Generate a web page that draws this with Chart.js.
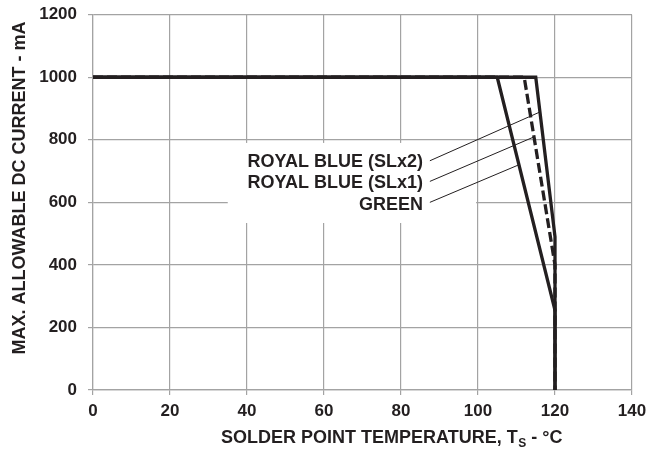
<!DOCTYPE html>
<html>
<head>
<meta charset="utf-8">
<script src="https://cdn.jsdelivr.net/npm/chart.js@4/dist/chart.umd.min.js"></script>
<style>
  html, body { margin: 0; padding: 0; background: #fff; }
  #wrap { width: 649px; height: 453px; }
</style>
</head>
<body>
<div id="wrap"><canvas id="c" width="649" height="453"></canvas></div>
<script>
// Derating curves: max allowable DC current vs solder point temperature
const tempTicks = [0, 20, 40, 60, 80, 100, 120, 140];
const currentTicks = [0, 200, 400, 600, 800, 1000, 1200];

const greenTemp = [0, 105, 120, 120];
const greenCurrent = [1000, 1000, 255, 0];

const slx1Temp = [0, 112, 120, 120];
const slx1Current = [1000, 1000, 400, 0];

const slx2Temp = [0, 115, 120, 120];
const slx2Current = [1000, 1000, 490, 0];

// Callout labels and their leader lines (data units)
const calloutLabels = ['ROYAL BLUE (SLx2)', 'ROYAL BLUE (SLx1)', 'GREEN'];
const calloutLabelTemp = 85.7;
const calloutLabelCurrent = [730, 661, 590];
const leaderStartTemp = 87.5;
const leaderStartCurrent = [733, 667, 600];
const leaderEndTemp = [116.1, 114.5, 110.6];
const leaderEndCurrent = [889, 809, 720];
// white backing behind the callout text
const calloutBoxTemp = [35, 99.5];
const calloutBoxCurrent = [534, 790];

const xTitleMain = 'SOLDER POINT TEMPERATURE, T';
const xTitleSub = 'S';
const xTitleTail = ' - \u00B0C';
const yTitle = 'MAX. ALLOWABLE DC CURRENT - mA';

const INK = '#231f20';
const GRID = '#a3a3a3';
const FONT = '"Liberation Sans", Arial, Helvetica, sans-serif';

function toPoints(xs, ys) { return xs.map((x, i) => ({ x: x, y: ys[i] })); }

const calloutPlugin = {
  id: 'callouts',
  beforeDatasetsDraw(chart) {
    const { ctx, scales: { x, y } } = chart;
    const x0 = x.getPixelForValue(calloutBoxTemp[0]);
    const x1 = x.getPixelForValue(calloutBoxTemp[1]);
    const y0 = y.getPixelForValue(calloutBoxCurrent[1]);
    const y1 = y.getPixelForValue(calloutBoxCurrent[0]);
    ctx.save();
    ctx.fillStyle = '#fff';
    ctx.fillRect(x0, y0, x1 - x0, y1 - y0);
    ctx.restore();
  },
  afterDatasetsDraw(chart) {
    const { ctx, scales: { x, y } } = chart;
    ctx.save();
    ctx.fillStyle = INK;
    ctx.font = 'bold 18px ' + FONT;
    ctx.textAlign = 'right';
    ctx.textBaseline = 'middle';
    calloutLabels.forEach((t, i) => {
      ctx.fillText(t, x.getPixelForValue(calloutLabelTemp), y.getPixelForValue(calloutLabelCurrent[i]));
    });
    ctx.strokeStyle = INK;
    ctx.lineWidth = 1;
    calloutLabels.forEach((t, i) => {
      ctx.beginPath();
      ctx.moveTo(x.getPixelForValue(leaderStartTemp), y.getPixelForValue(leaderStartCurrent[i]));
      ctx.lineTo(x.getPixelForValue(leaderEndTemp[i]), y.getPixelForValue(leaderEndCurrent[i]));
      ctx.stroke();
    });
    ctx.restore();
  },
  afterDraw(chart) {
    const { ctx, chartArea } = chart;
    ctx.save();
    ctx.fillStyle = INK;
    // x axis title with subscript
    const mainFont = 'bold 18px ' + FONT;
    const subFont = 'bold 12px ' + FONT;
    ctx.font = mainFont;
    const wMain = ctx.measureText(xTitleMain).width;
    const wTail = ctx.measureText(xTitleTail).width;
    ctx.font = subFont;
    const wSub = ctx.measureText(xTitleSub).width;
    const total = wMain + wSub + wTail;
    const cx = 391.5;
    let px = cx - total / 2;
    const baseY = 443;
    ctx.textAlign = 'left';
    ctx.textBaseline = 'alphabetic';
    ctx.font = mainFont;
    ctx.fillText(xTitleMain, px, baseY);
    px += wMain;
    ctx.font = subFont;
    ctx.fillText(xTitleSub, px + 0.5, baseY + 4);
    px += wSub + 0.5;
    ctx.font = mainFont;
    ctx.fillText(xTitleTail, px, baseY);
    // y axis title
    ctx.translate(20, 188);
    ctx.rotate(-Math.PI / 2);
    ctx.textAlign = 'center';
    ctx.textBaseline = 'middle';
    ctx.font = mainFont;
    ctx.fillText(yTitle, 0, 0);
    ctx.restore();
  }
};

const lineStyle = {
  borderColor: INK,
  borderWidth: 3.3,
  pointRadius: 0,
  tension: 0,
  fill: false,
  borderCapStyle: 'butt',
  borderJoinStyle: 'miter'
};

new Chart(document.getElementById('c'), {
  type: 'line',
  data: {
    datasets: [
      Object.assign({ label: 'GREEN', data: toPoints(greenTemp, greenCurrent) }, lineStyle),
      Object.assign({ label: 'ROYAL BLUE (SLx1)', data: toPoints(slx1Temp, slx1Current), borderDash: [10, 4] }, lineStyle),
      Object.assign({ label: 'ROYAL BLUE (SLx2)', data: toPoints(slx2Temp, slx2Current) }, lineStyle)
    ]
  },
  options: {
    responsive: false,
    animation: false,
    devicePixelRatio: 1,
    layout: { padding: { top: 14.7, right: 17, left: 0, bottom: 0 } },
    plugins: { legend: { display: false }, tooltip: { enabled: false } },
    scales: {
      x: {
        type: 'linear',
        min: tempTicks[0],
        max: tempTicks[tempTicks.length - 1],
        afterBuildTicks(scale) { scale.ticks = tempTicks.map(v => ({ value: v })); },
        afterFit(scale) {
          scale.height = 63;
          scale.paddingLeft = 0; scale.paddingRight = 0;
        },
        ticks: { color: INK, font: { family: FONT, size: 17, weight: 'bold' }, padding: 6, maxRotation: 0, callback: v => String(v) },
        grid: { color: GRID, lineWidth: 1.2, tickLength: 5 },
        border: { color: GRID, width: 1.2 }
      },
      y: {
        type: 'linear',
        min: currentTicks[0],
        max: currentTicks[currentTicks.length - 1],
        afterBuildTicks(scale) { scale.ticks = currentTicks.map(v => ({ value: v })); },
        afterFit(scale) {
          scale.width = 93;
          scale.paddingTop = 0; scale.paddingBottom = 0;
        },
        ticks: { color: INK, font: { family: FONT, size: 17, weight: 'bold' }, padding: 11, callback: v => String(v) },
        grid: { color: GRID, lineWidth: 1.2, tickLength: 5 },
        border: { color: GRID, width: 1.2 }
      }
    }
  },
  plugins: [calloutPlugin]
});
</script>
</body>
</html>
